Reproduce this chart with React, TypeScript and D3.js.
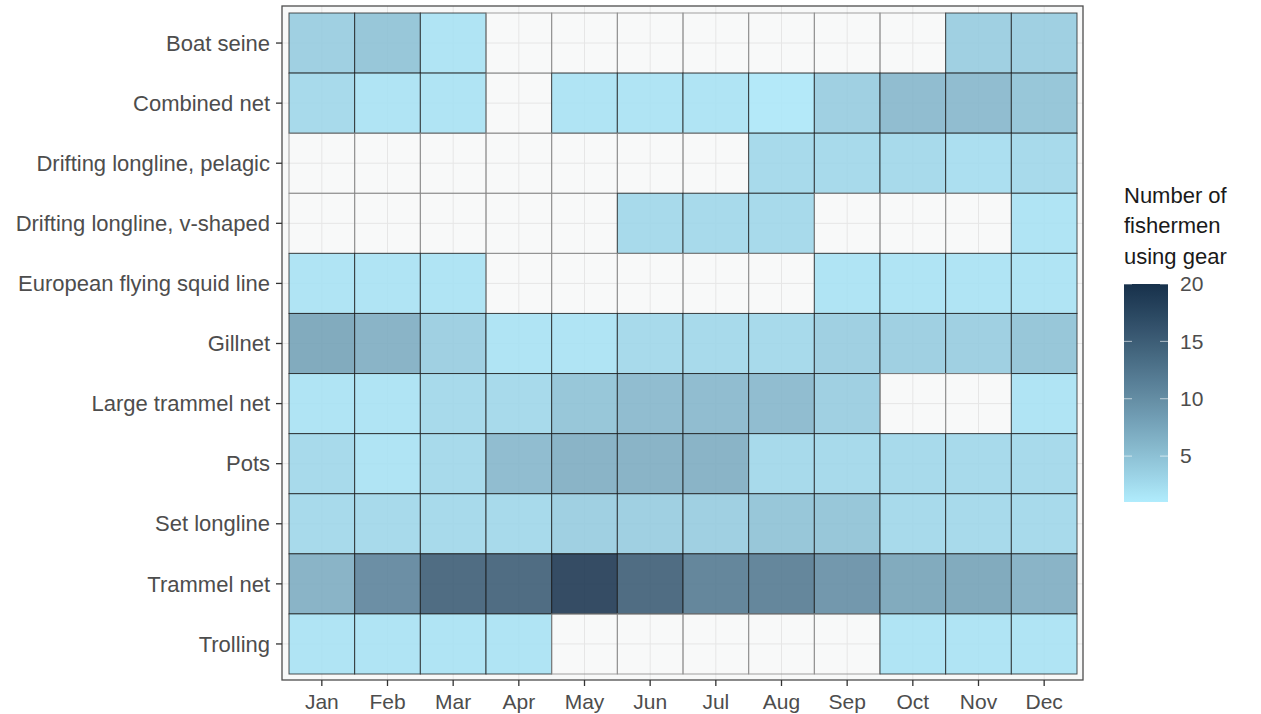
import React from 'react';
import * as d3 from 'd3';

const months = ['Jan', 'Feb', 'Mar', 'Apr', 'May', 'Jun', 'Jul', 'Aug', 'Sep', 'Oct', 'Nov', 'Dec'];
const gears = [
  'Boat seine',
  'Combined net',
  'Drifting longline, pelagic',
  'Drifting longline, v-shaped',
  'European flying squid line',
  'Gillnet',
  'Large trammel net',
  'Pots',
  'Set longline',
  'Trammel net',
  'Trolling',
];

// number of fishermen per month, null = gear not used
const boatSeine = [4, 5, 2, null, null, null, null, null, null, null, 4, 4];
const combinedNet = [3, 2, 2, null, 2, 2, 2, 1.5, 4, 6, 6, 5];
const driftingPelagic = [null, null, null, null, null, null, null, 3, 3, 3, 2.5, 3];
const driftingVShaped = [null, null, null, null, null, 3, 3, 3, null, null, null, 2];
const squidLine = [2, 2, 2, null, null, null, null, null, 2, 2, 2, 2];
const gillnet = [8, 7, 4, 2, 2, 3, 3, 3, 4, 4, 4, 5];
const largeTrammel = [2, 2, 3, 3, 5, 6, 6, 6, 4, null, null, 2];
const pots = [3, 2, 3, 6, 7, 7, 7, 3, 3, 3, 3, 3];
const setLongline = [3, 3, 3, 3, 4, 4, 4, 5, 5, 3, 3, 3];
const trammelNet = [7, 11, 15, 15, 19, 15, 12, 12, 10, 8, 8, 7];
const trolling = [2, 2, 2, 2, null, null, null, null, null, 2, 2, 2];

const rows = [boatSeine, combinedNet, driftingPelagic, driftingVShaped, squidLine, gillnet, largeTrammel, pots, setLongline, trammelNet, trolling];
const legendTicks = [5, 10, 15, 20];

export default function App() {
  const W = 1261;
  const H = 714;
  const panel = { x0: 282, x1: 1083, y0: 6, y1: 680 };

  const x = d3.scaleBand().domain(months).range([289, 1077]);
  const y = d3.scaleBand().domain(gears).range([13, 674]);
  const color = d3.scaleLinear<string>()
    .domain([1, 20])
    .range(['#b0ecfd', '#17314b'])
    .interpolate(d3.interpolateLab);

  const cells = rows.flatMap((vals, i) =>
    vals.map((v, j) => ({ gear: gears[i], month: months[j], v }))
  );

  const leg = { x: 1124, w: 44, top: 284, bottom: 502 };
  const ly = d3.scaleLinear().domain([1, 20]).range([leg.bottom, leg.top]);
  const stops = d3.range(0, 1.0001, 0.05);

  const font = 'Liberation Sans, Arial, sans-serif';

  return (
    <svg width={W} height={H} style={{ display: 'block', position: 'absolute', left: 0, top: 0 }} fontFamily={font}>
      <defs>
        <linearGradient id="leg" x1="0" y1="1" x2="0" y2="0">
          {stops.map(t => (
            <stop key={t} offset={t} stopColor={color(1 + t * 19)} />
          ))}
        </linearGradient>
      </defs>
      <rect width={W} height={H} fill="#ffffff" />
      <rect x={panel.x0} y={panel.y0} width={panel.x1 - panel.x0} height={panel.y1 - panel.y0} fill="#f8f9f9" />
      {months.map(m => (
        <line key={m} x1={x(m)! + x.bandwidth() / 2} x2={x(m)! + x.bandwidth() / 2} y1={panel.y0} y2={panel.y1} stroke="#e6e6e6" strokeWidth={1} />
      ))}
      {gears.map(g => (
        <line key={g} y1={y(g)! + y.bandwidth() / 2} y2={y(g)! + y.bandwidth() / 2} x1={panel.x0} x2={panel.x1} stroke="#e6e6e6" strokeWidth={1} />
      ))}
      {cells.map(c => (
        <rect
          key={c.gear + c.month}
          x={x(c.month)}
          y={y(c.gear)}
          width={x.bandwidth()}
          height={y.bandwidth()}
          fill={c.v == null ? 'none' : color(c.v)}
          fillOpacity={0.9}
          stroke={c.v == null ? '#8a8a8a' : '#1a1a1a'}
          strokeOpacity={c.v == null ? 0.8 : 0.75}
          strokeWidth={1}
        />
      ))}
      <rect x={panel.x0} y={panel.y0} width={panel.x1 - panel.x0} height={panel.y1 - panel.y0} fill="none" stroke="#4d4d4d" strokeWidth={1.3} />

      {months.map(m => {
        const cx = x(m)! + x.bandwidth() / 2;
        return (
          <g key={m}>
            <line x1={cx} x2={cx} y1={panel.y1} y2={panel.y1 + 6} stroke="#333" strokeWidth={1.3} />
            <text x={cx} y={709} textAnchor="middle" fontSize={21} fill="#4d4d4d">{m}</text>
          </g>
        );
      })}
      {gears.map(g => {
        const cy = y(g)! + y.bandwidth() / 2;
        return (
          <g key={g}>
            <line x1={panel.x0 - 6} x2={panel.x0} y1={cy} y2={cy} stroke="#333" strokeWidth={1.3} />
            <text x={270} y={cy} dy="0.35em" textAnchor="end" fontSize={22} fill="#4d4d4d">{g}</text>
          </g>
        );
      })}

      <text fontSize={22} fill="#1a1a1a">
        <tspan x={1124} y={203}>Number of</tspan>
        <tspan x={1124} y={233}>fishermen</tspan>
        <tspan x={1124} y={264}>using gear</tspan>
      </text>
      <rect x={leg.x} y={leg.top} width={leg.w} height={leg.bottom - leg.top} fill="url(#leg)" />
      {legendTicks.map(t => (
        <g key={t}>
          <line x1={leg.x} x2={leg.x + 8} y1={ly(t)} y2={ly(t)} stroke="#ffffff" strokeOpacity={0.6} />
          <line x1={leg.x + leg.w - 8} x2={leg.x + leg.w} y1={ly(t)} y2={ly(t)} stroke="#ffffff" strokeOpacity={0.6} />
          <text x={1180} y={ly(t)} dy="0.35em" fontSize={21} fill="#4d4d4d">{t}</text>
        </g>
      ))}
    </svg>
  );
}
